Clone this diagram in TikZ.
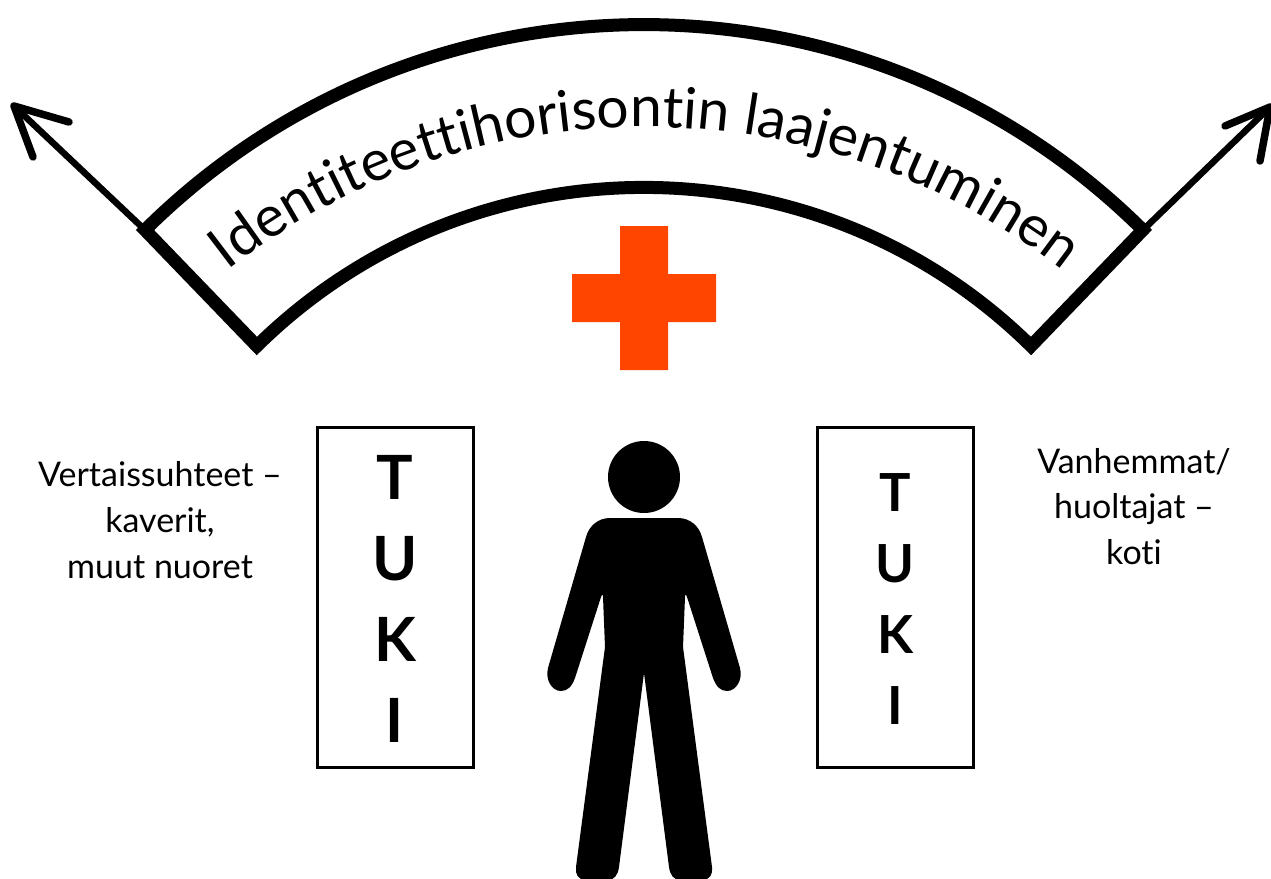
\documentclass[tikz,border=0pt]{standalone}
\usepackage{fontspec}
\setmainfont[Ligatures=NoCommon]{Lato}
\usetikzlibrary{decorations.text}
\tikzset{
  band/.style={line width=13pt,miter limit=10,line join=miter},
  shaft/.style={line width=6.5pt},
  barb/.style={line width=7.5pt,line cap=round,line join=round},
  tukibox/.style={draw=black,line width=3pt,fill=white},
  tukileft/.style={anchor=base,inner sep=0pt,font=\fontsize{61}{61}\selectfont\bfseries},
  tukiright/.style={anchor=base,inner sep=0pt,font=\fontsize{52.5}{52.5}\selectfont\bfseries},
  sidetext/.style={anchor=base,inner sep=0pt,font=\fontsize{34}{34}\selectfont},
}
\definecolor{crossred}{HTML}{FF4500}
\begin{document}
\begin{tikzpicture}[x=1pt,y=-1pt]
\clip (0,0) rectangle (1271,878);
\fill[white] (0,0) rectangle (1271,878);
% arrows
\coordinate (jl) at (145,230);
\coordinate (jr) at (1143,230);
\coordinate (tl) at (14,106);
\coordinate (tr) at (1270,107);
\coordinate (bl1) at (69,122);
\coordinate (bl2) at (33,157);
\coordinate (br1) at (1225,126);
\coordinate (br2) at (1260,161);
\draw[shaft] (jl) -- (tl);
\draw[shaft] (jr) -- (tr);
\draw[barb] (bl1) -- (tl) -- (bl2);
\draw[barb] (br1) -- (tr) -- (br2);
% curved band
\draw[band] (jl) arc[start angle=134.76,end angle=45.24,radius=708.6pt]
  -- (1031,346) arc[start angle=45.44,end angle=134.56,radius=551.7pt] -- cycle;
% text along arc
\path[decorate,decoration={text along path,text align=center,
  text={|\fontsize{57}{58}\selectfont|Identiteettihorisontin laajentuminen}}]
  (231,267.5) arc[start angle=127.5,end angle=52.5,radius=680pt];
% cross
\fill[crossred] (620,226) -- (668,226) -- (668,274) -- (716,274) -- (716,322) -- (668,322)
  -- (668,370) -- (620,370) -- (620,322) -- (572,322) -- (572,274) -- (620,274) -- cycle;
% boxes
\node[tukibox,minimum width=156pt,minimum height=340pt,inner sep=0pt] (boxl) at (395,597) {};
\node[tukibox,minimum width=156pt,minimum height=340pt,inner sep=0pt] (boxr) at (895,597) {};
\node[tukileft] (lt) at (395,499) {T};
\node[tukileft] (lu) at (395,580) {U};
\node[tukileft] (lk) at (395,661) {K};
\node[tukileft] (li) at (395,742) {I};
\node[tukiright] (rt) at (895,511) {T};
\node[tukiright] (ru) at (895,582) {U};
\node[tukiright] (rk) at (895,653) {K};
\node[tukiright] (ri) at (895,724) {I};
% side texts
\node[sidetext] (s1) at (160,486) {Vertaissuhteet –};
\node[sidetext] (s2) at (160,532) {kaverit,};
\node[sidetext] (s3) at (160,578) {muut nuoret};
\node[sidetext] (s4) at (1134,473) {Vanhemmat/};
\node[sidetext] (s5) at (1134,518.5) {huoltajat –};
\node[sidetext] (s6) at (1134,564.5) {koti};
% person
\fill (644,477) circle[radius=36pt];
\fill (610,518) -- (678,518)
  .. controls (690,518) and (699,526) .. (702,537)
  -- (740,668)
  .. controls (743,680) and (736,691) .. (727,691)
  .. controls (720,691) and (716,686) .. (713,678)
  -- (687,597) .. controls (686,594) and (685,594) .. (685,597)
  -- (683,647)
  -- (712,867) .. controls (713,874) and (710,880) .. (702,880)
  -- (680,880) .. controls (674,880) and (670,875) .. (669,867)
  -- (644,673)
  -- (619,867) .. controls (618,875) and (614,880) .. (608,880)
  -- (586,880) .. controls (578,880) and (575,874) .. (576,867)
  -- (605,647)
  -- (603,597) .. controls (603,594) and (602,594) .. (601,597)
  -- (575,678) .. controls (572,686) and (568,691) .. (561,691)
  .. controls (552,691) and (545,680) .. (548,668)
  -- (586,537)
  .. controls (589,526) and (598,518) .. (610,518) -- cycle;
\end{tikzpicture}
\end{document}
